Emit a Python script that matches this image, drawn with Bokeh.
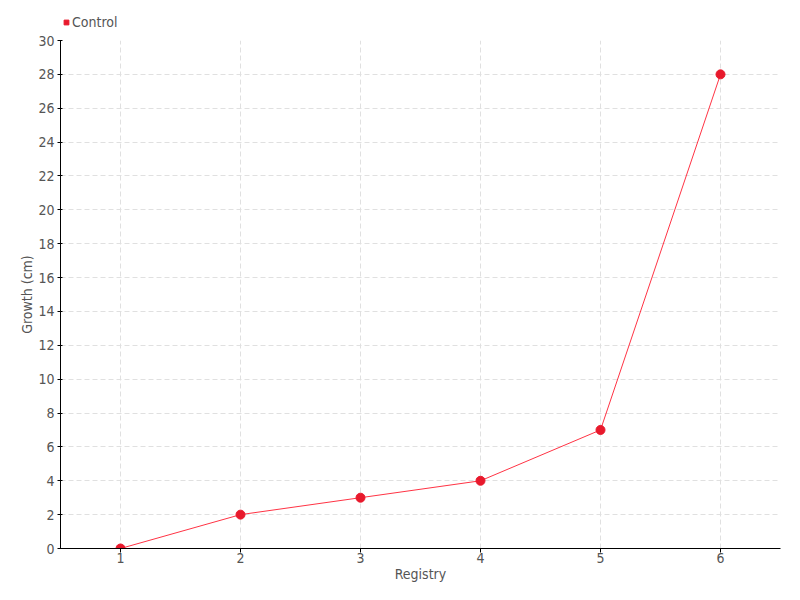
from bokeh.plotting import figure
from bokeh.models import ColumnDataSource, Legend, LegendItem, Range1d, FixedTicker
from bokeh.layouts import column
from bokeh.embed import file_html
from bokeh.resources import INLINE

registry = [1, 2, 3, 4, 5, 6]
growth = [0, 2, 3, 4, 7, 28]
series_name = "Control"
y_ticks = list(range(0, 31, 2))

FONT = "'DejaVu Sans Condensed', 'Liberation Sans Narrow', Roboto"
TXT = "#555555"
RED = "#e8192c"
GRID = "#e0e0e0"

src = ColumnDataSource(dict(x=registry, y=growth))

# legend strip above the chart
top = figure(width=784, height=32, output_backend="svg", toolbar_location=None,
             x_axis_location=None, y_axis_location=None,
             x_range=Range1d(0.5, 6.5), y_range=Range1d(0, 30),
             min_border=0)
top.outline_line_color = None
top.xgrid.visible = False
top.ygrid.visible = False
leg = top.scatter("x", "y", source=src, marker="square", size=0, fill_color=RED, line_color=RED)
legend = Legend(items=[LegendItem(label=series_name, renderers=[leg])],
                location=(0, 2), orientation="horizontal",
                padding=0, spacing=0, glyph_width=12, glyph_height=16,
                label_standoff=0, label_text_font=FONT, label_text_font_size="14px",
                label_text_color=TXT, border_line_color=None, background_fill_alpha=0)
legend.margin = 0
top.add_layout(legend, "center")

p = figure(width=784, height=552, output_backend="svg", toolbar_location=None,
           x_range=Range1d(0.5, 6.5), y_range=Range1d(0, 30),
           min_border_left=60, min_border_right=4, min_border_top=8, min_border_bottom=20)
p.outline_line_color = None
p.background_fill_color = "white"
p.border_fill_color = "white"

ln = p.line("x", "y", source=src, line_color="#ff3344", line_width=1)
pts = p.scatter("x", "y", source=src, size=9, fill_color=RED, line_color=RED)

for ax in (p.xaxis[0], p.yaxis[0]):
    ax.axis_line_color = "black"
    ax.major_tick_line_color = "black"
    ax.minor_tick_line_color = None
    ax.major_label_text_font = FONT
    ax.major_label_text_font_size = "14px"
    ax.major_label_text_color = TXT
    ax.axis_label_text_font = FONT
    ax.axis_label_text_font_size = "14px"
    ax.axis_label_text_color = TXT
    ax.axis_label_text_font_style = "normal"

p.xaxis.ticker = FixedTicker(ticks=registry)
p.yaxis.ticker = FixedTicker(ticks=y_ticks)
p.xaxis.axis_label = "Registry"
p.yaxis.axis_label = "Growth (cm)"
p.xaxis.major_tick_in = 0
p.xaxis.major_tick_out = 4
p.yaxis.major_tick_in = 2
p.yaxis.major_tick_out = 3
p.xaxis.major_label_standoff = 0
p.yaxis.major_label_standoff = 3
p.xaxis.axis_label_standoff = 0
p.yaxis.axis_label_standoff = 0

for g in (p.xgrid[0], p.ygrid[0]):
    g.grid_line_color = GRID
    g.grid_line_dash = "5 3"
    g.grid_line_width = 1

layout = column(top, p, spacing=0)
open("out.html", "w").write(file_html(layout, INLINE))
